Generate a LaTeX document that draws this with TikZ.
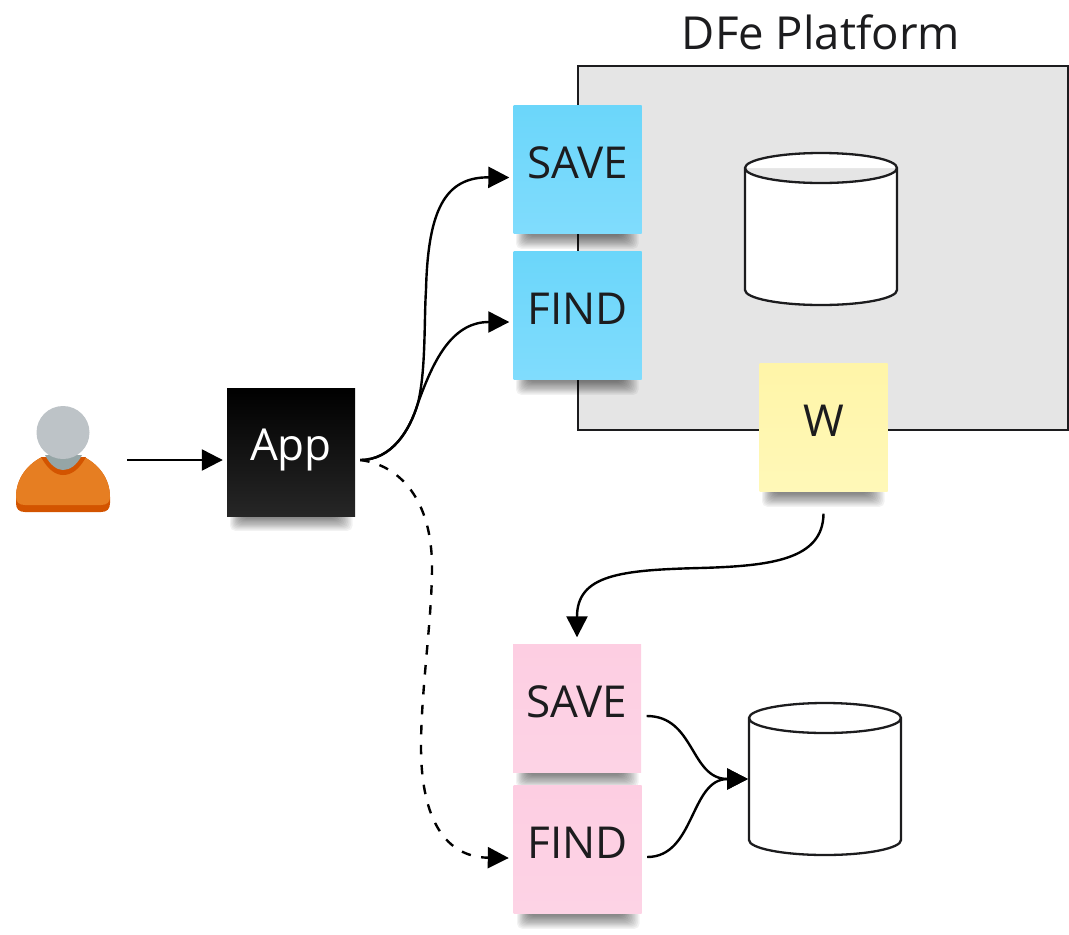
\documentclass[tikz,border=0pt]{standalone}
\usepackage{fontspec}
\setmainfont{Open Sans}
\usetikzlibrary{arrows.meta,positioning}
\definecolor{inkdark}{HTML}{1C1C1E}
\definecolor{blue1}{HTML}{6BD6FA}
\definecolor{blue2}{HTML}{80DCFD}
\definecolor{pink1}{HTML}{FDCEE2}
\definecolor{pink2}{HTML}{FDD3E5}
\definecolor{yellow1}{HTML}{FFF5A8}
\definecolor{yellow2}{HTML}{FFF8B8}
\definecolor{userdark}{HTML}{D35400}
\definecolor{userorange}{HTML}{E67E22}
\definecolor{userneck}{HTML}{95A5A6}
\definecolor{userhead}{HTML}{BDC3C7}
\newcommand{\noteshadow}[2]{%
  \foreach \r in {1,...,12}{
    \fill[black,opacity=.05,rounded corners=5pt] (#1+2+1.1*\r,#2-4) rectangle (#1+127-1.5*\r,#2+16-1.2*\r);
  }%
}
\newcommand{\storeshape}[1]{%
  \draw[storeline] ([yshift=-15pt]#1.north west) arc[start angle=180, end angle=-180, x radius=76pt, y radius=15pt]
    -- ([yshift=15pt]#1.south west) arc[start angle=180, end angle=360, x radius=76pt, y radius=15pt]
    -- ([yshift=-15pt]#1.north east);%
}
\begin{document}
\begin{tikzpicture}[
  x=1pt, y=-1pt,
  note/.style={minimum size=128pt, inner sep=0pt, align=center, text=inkdark,
    font=\fontsize{44}{52}\selectfont, text height=33pt, text depth=15.8pt},
  bluenote/.style={note, top color=blue1, bottom color=blue2},
  pinknote/.style={note, top color=pink1, bottom color=pink2},
  yellownote/.style={note, top color=yellow1, bottom color=yellow2},
  blacknote/.style={note, top color=black, bottom color=black!85, text=white},
  store/.style={minimum size=152pt, inner sep=0pt, outer sep=0pt},
  storeline/.style={draw=inkdark, line width=2.3pt, fill=white, line join=round, line cap=round},
  arr/.style={-{Triangle[length=21pt,width=21pt]}, line width=2.4pt, black}
]
\useasboundingbox (0,0) rectangle (1069,935);
% platform
\node[draw=inkdark, line width=2pt, fill=black!10, minimum width=490pt, minimum height=364pt,
  inner sep=0pt] (platform) at (823,248) {};
\node[font=\fontsize{45.5}{52}\selectfont, text=inkdark] (title) at (821,32) {DFe Platform};
\node[store] (storea) at (821,229) {};
\storeshape{storea}
\node[store] (storeb) at (825,779) {};
\storeshape{storeb}
% user
\fill[userdark] (16,497) .. controls (16,478) and (28,464) .. (42,457) -- (84,457)
  .. controls (98,464) and (110,478) .. (110,497) -- (110,503) .. controls (110,509) and (107,512) .. (101,512)
  -- (25,512) .. controls (19,512) and (16,509) .. (16,503) -- cycle;
\fill[userorange] (16,497) .. controls (16,478) and (28,464) .. (42,457) -- (84,457)
  .. controls (98,464) and (110,478) .. (110,497) .. controls (110,502) and (107,505) .. (101,505)
  -- (25,505) .. controls (19,505) and (16,502) .. (16,497) -- cycle;
\fill[userdark] (41,457) .. controls (48,470) and (56,475) .. (63,475) .. controls (71,475) and (79,470) .. (86,457) -- cycle;
\fill[userneck] (45,455) .. controls (50,465) and (57,470) .. (63,470) .. controls (70,470) and (77,465) .. (82,455) -- cycle;
\fill[userhead] (63,432.5) circle (26.5);
\coordinate (userout) at (127,460);
% stickies
\noteshadow{513}{234}
\node[bluenote] (saveb) at (577.5,169.5) {SAVE};
\noteshadow{513}{380}
\node[bluenote] (findb) at (577.5,315.5) {FIND};
\noteshadow{759}{492}
\node[yellownote] (worker) at (823.5,427.5) {W};
\noteshadow{227}{516}
\node[blacknote] (app) at (291,452) {App};
\noteshadow{513}{773}
\node[pinknote] (savep) at (577,708.5) {SAVE};
\noteshadow{514}{914}
\node[pinknote] (findp) at (577.5,849.5) {FIND};
% connectors
\draw[arr] (userout) -- ([xshift=-4pt,yshift=-8pt]app.west);
\draw[arr] ([xshift=5pt,yshift=-8pt]app.east) .. controls (392,460) and (410,430) .. (418,403)
  .. controls (426,370) and (424,320) .. (426,290)
  .. controls (428,210) and (445,177) .. ([xshift=-4pt,yshift=-8pt]saveb.west);
\draw[arr] ([xshift=5pt,yshift=-8pt]app.east) .. controls (392,460) and (410,430) .. (418,403)
  .. controls (432,365) and (450,322) .. ([xshift=-4pt,yshift=-6.5pt]findb.west);
\draw[arr, dash pattern=on 9.5pt off 10.5pt] ([xshift=5pt,yshift=-8pt]app.east) .. controls (400,465) and (432,500) .. (432,567)
  .. controls (432,620) and (421,690) .. (421,747)
  .. controls (421,810) and (440,857) .. ([xshift=-4.5pt,yshift=-8.5pt]findp.west);
\draw[arr] ([yshift=-22pt]worker.south) .. controls (823,560) and (770,566) .. (700,568)
  .. controls (620,570) and (577,575) .. ([yshift=7pt]savep.north);
\draw[arr] ([xshift=5.5pt,yshift=-7.5pt]savep.east) .. controls (695,716) and (690,779) .. ([xshift=-1pt]storeb.west);
\draw[arr] ([xshift=5.5pt,yshift=-7.5pt]findp.east) .. controls (695,857) and (690,779) .. ([xshift=-1pt]storeb.west);
\end{tikzpicture}
\end{document}
